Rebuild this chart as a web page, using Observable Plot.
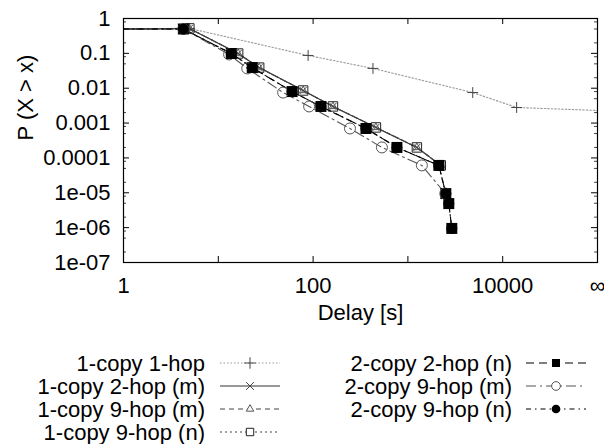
<!DOCTYPE html>
<html><head><meta charset="utf-8">
<script src="https://cdn.jsdelivr.net/npm/d3@7"></script>
<script src="https://cdn.jsdelivr.net/npm/@observablehq/plot@0.6"></script>
<style>
body{margin:0;background:#fff;}
#chart{width:604px;height:444px;position:relative;overflow:hidden;}
#chart svg{display:block;}
</style></head><body><div id="chart"></div>
<script>
// ---- data ----
const seriesNames = ["1-copy 1-hop","1-copy 2-hop (m)","1-copy 9-hop (m)","1-copy 9-hop (n)","2-copy 2-hop (n)","2-copy 9-hop (m)","2-copy 9-hop (n)"];
const startDelay = 1;          // lines start at the left edge
const startProb = 0.5;
const infinityDelay = 1e5;     // the "∞" position on the x axis

const oneHopDelay = [4.95, 88.6, 428, 4830, 14030];
const oneHopProb  = [0.52, 0.087, 0.037, 0.0075, 0.0028];
const oneHopInfProb = 0.0023;

const oneCopy2hopMDelay = [4.95, 16.2, 27, 78.5, 162, 460, 1244, 2225];
const oneCopy2hopMProb  = [0.52, 0.099, 0.039, 0.0086, 0.003, 0.00075, 0.0002, 6.1e-5];
const oneCopy9hopMDelay = [4.95, 16.2, 27, 78.5, 162, 460, 1244, 2225];
const oneCopy9hopMProb  = [0.52, 0.099, 0.039, 0.0086, 0.003, 0.00075, 0.0002, 6.1e-5];
const oneCopy9hopNDelay = [4.95, 16.2, 27, 78.5, 162, 460, 1244, 2225];
const oneCopy9hopNProb  = [0.52, 0.099, 0.039, 0.0086, 0.003, 0.00075, 0.0002, 6.1e-5];

const twoCopy2hopNDelay = [4.28, 13.7, 22.8, 60, 121, 361, 766, 2120, 2512, 2700, 2905];
const twoCopy2hopNProb  = [0.5, 0.099, 0.039, 0.008, 0.003, 0.0007, 0.0002, 6.1e-5, 9.5e-6, 4.9e-6, 9.5e-7];
const twoCopy9hopMDelay = [4.28, 13, 20.2, 48.3, 90.8, 245, 532, 1404, 2480];
const twoCopy9hopMProb  = [0.5, 0.093, 0.037, 0.0075, 0.003, 0.0007, 0.0002, 6.1e-5, 9.5e-6];
const twoCopy9hopNDelay = [4.28, 13.7, 22.8, 60, 121, 361, 766, 2120, 2512, 2700, 2905];
const twoCopy9hopNProb  = [0.5, 0.099, 0.039, 0.008, 0.003, 0.0007, 0.0002, 6.1e-5, 9.5e-6, 4.9e-6, 9.5e-7];

const xTickValues = [1, 10, 100, 1000, 10000, 1e5];
const xLabelValues = [1, 100, 10000, 1e5];
const xLabelTexts = ["1", "100", "10000", "∞"];
const yTickValues = [1, 0.1, 0.01, 0.001, 0.0001, 1e-5, 1e-6, 1e-7];
const yTickLabels = ["1", "0.1", "0.01", "0.001", "0.0001", "1e-05", "1e-06", "1e-07"];
const yMinorMultipliers = [2, 5, 8];
const xLabel = "Delay [s]";
const yLabel = "P (X > x)";

// ---- styles ----
const styles = [
  {line: "#999", dash: "1.5,2", sym: "plus", r: 3.6, fill: "none", stroke: "#444", lsym: d3.symbolPlus, lsize: 45},
  {line: "#333", dash: null, sym: "times", r: 3.3, fill: "none", stroke: "#444", lsym: d3.symbolTimes, lsize: 40},
  {line: "#444", dash: "5,4", sym: "triangle2", r: 3.6, fill: "none", stroke: "#555", lsym: d3.symbolTriangle2, lsize: 40},
  {line: "#444", dash: "2,3", sym: "square2", r: 6.0, fill: "none", stroke: "#222", lsym: d3.symbolSquare2, lsize: 70},
  {line: "#000", dash: "8,5", sym: "square", r: 6.2, fill: "#000", stroke: "none", lsym: d3.symbolSquare, lsize: 64},
  {line: "#555", dash: "10,4,2,4", sym: "circle", r: 5.5, fill: "none", stroke: "#555", lsym: d3.symbolCircle, lsize: 60},
  {line: "#000", dash: "5,4,1.5,4", sym: "circle", r: 5.5, fill: "#000", stroke: "none", lsym: d3.symbolCircle, lsize: 60}
];

const seriesData = [
  [oneHopDelay, oneHopProb],
  [oneCopy2hopMDelay, oneCopy2hopMProb],
  [oneCopy9hopMDelay, oneCopy9hopMProb],
  [oneCopy9hopNDelay, oneCopy9hopNProb],
  [twoCopy2hopNDelay, twoCopy2hopNProb],
  [twoCopy9hopMDelay, twoCopy9hopMProb],
  [twoCopy9hopNDelay, twoCopy9hopNProb]
];

const pointRows = seriesData.map(([xs, ys], i) => xs.map((x, j) => ({series: seriesNames[i], delay: x, prob: ys[j]})));
const lineRows = pointRows.map((rows, i) => {
  const out = [{series: seriesNames[i], delay: startDelay, prob: startProb}, ...rows];
  if (i === 0) out.push({series: seriesNames[i], delay: infinityDelay, prob: oneHopInfProb});
  return out;
});

const yMinor = [];
for (const v of yTickValues.slice(1)) for (const m of yMinorMultipliers) yMinor.push(v * m);

const W = 604, H = 340;
const mL = 123, mR = 7, mT = 18, mB = 78;
const pw = W - mL - mR, ph = H - mT - mB;
const FONT = '"Liberation Sans", Arial, Helvetica, sans-serif';

const lineMarks = lineRows.map((rows, i) => Plot.line(rows, {
  x: "delay", y: "prob", stroke: styles[i].line, strokeWidth: 1.1,
  strokeDasharray: styles[i].dash || undefined, clip: true
}));
const dotMarks = pointRows.map((rows, i) => Plot.dot(rows, {
  x: "delay", y: "prob", symbol: styles[i].sym, r: styles[i].r,
  fill: styles[i].fill, stroke: styles[i].stroke, strokeWidth: 1
}));

const chart = Plot.plot({
  width: W, height: H,
  marginLeft: mL, marginRight: mR, marginTop: mT, marginBottom: mB,
  style: {fontFamily: FONT, fontSize: "22px", color: "black", background: "white", overflow: "visible"},
  x: {type: "log", domain: [1, infinityDelay]},
  y: {type: "log", domain: [1e-7, 1]},
  marks: [
    Plot.tickX(xTickValues, {x: d => d, insetTop: ph - 6, stroke: "black"}),
    Plot.tickX(xTickValues, {x: d => d, insetBottom: ph - 6, stroke: "black"}),
    Plot.tickY(yTickValues, {y: d => d, insetRight: pw - 6, stroke: "black"}),
    Plot.tickY(yTickValues, {y: d => d, insetLeft: pw - 6, stroke: "black"}),
    Plot.tickY(yMinor, {y: d => d, insetRight: pw - 3, stroke: "#444"}),
    Plot.tickY(yMinor, {y: d => d, insetLeft: pw - 3, stroke: "#444"}),
    Plot.axisX({ticks: xLabelValues, tickFormat: d => xLabelTexts[xLabelValues.indexOf(d)], tickSize: 0, tickPadding: 15, label: null}),
    Plot.axisY({ticks: yTickValues, tickFormat: d => yTickLabels[yTickValues.indexOf(d)], tickSize: 0, tickPadding: 13, label: null}),
    Plot.text([xLabel], {text: d => d, frameAnchor: "bottom", dy: 57}),
    Plot.text([yLabel], {text: d => d, frameAnchor: "left", dx: -98, rotate: -90}),
    ...lineMarks,
    ...dotMarks,
    Plot.frame({stroke: "black", strokeWidth: 1.2})
  ]
});
document.getElementById("chart").appendChild(chart);

// ---- legend below the plot ----
const legH = 444 - H;
const leg = d3.select("#chart").append("svg")
  .attr("width", W).attr("height", legH)
  .style("font-family", FONT)
  .style("font-size", "22px");
const cols = [{textX: 205, x1: 220, x2: 280}, {textX: 512, x1: 526, x2: 586}];
const rowY = [23, 46, 69, 92];
seriesNames.forEach((name, i) => {
  const c = i < 4 ? cols[0] : cols[1];
  const y = rowY[i < 4 ? i : i - 4];
  const s = styles[i];
  leg.append("text").attr("x", c.textX).attr("y", y).attr("dy", "0.35em")
    .attr("text-anchor", "end").attr("fill", "black").text(name);
  leg.append("line").attr("x1", c.x1).attr("x2", c.x2).attr("y1", y).attr("y2", y)
    .attr("stroke", s.line).attr("stroke-width", 1.1)
    .attr("stroke-dasharray", s.dash);
  leg.append("path").attr("transform", `translate(${(c.x1 + c.x2) / 2},${y})`)
    .attr("d", d3.symbol(s.lsym, s.lsize)())
    .attr("fill", s.fill === "none" ? "white" : s.fill)
    .attr("stroke", s.stroke).attr("stroke-width", 1);
});
</script>
</body></html>
